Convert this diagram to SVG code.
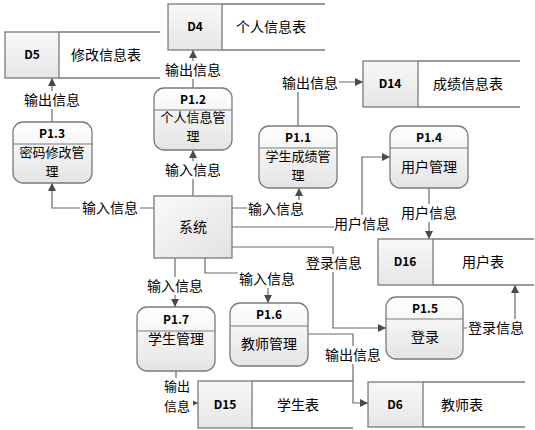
<svg xmlns="http://www.w3.org/2000/svg" width="535" height="430" viewBox="0 0 535 430">
<defs>
<linearGradient id="gp" x1="0" y1="0" x2="0" y2="1">
<stop offset="0" stop-color="#ffffff"/><stop offset="1" stop-color="#e4e4e4"/>
</linearGradient>
<linearGradient id="gs" x1="0" y1="0" x2="1" y2="1">
<stop offset="0" stop-color="#fafafa"/><stop offset="1" stop-color="#e2e2e2"/>
</linearGradient>
<linearGradient id="gd" x1="0" y1="0" x2="0" y2="1">
<stop offset="0" stop-color="#f8f8f8"/><stop offset="1" stop-color="#e6e6e6"/>
</linearGradient>
<marker id="ar" viewBox="0 0 10 10" refX="10" refY="5" markerWidth="8" markerHeight="8" markerUnits="userSpaceOnUse" orient="auto">
<path d="M0,0 L10,5 L0,10 z" fill="#4a4a4a"/>
</marker>
</defs>
<style>
text{font-family:"Noto Sans CJK SC","Microsoft YaHei",sans-serif;fill:#000;text-anchor:middle}
.t{font-size:14px}
.w{font-size:13px}
.h{font-size:12px;font-weight:bold}
.p{fill:url(#gp);stroke:#7a7a7a;stroke-width:1.3}
.hl{stroke:#7a7a7a;stroke-width:1}
.sb{fill:url(#gd);stroke:#7a7a7a;stroke-width:1.3}
.sl{stroke:#7a7a7a;stroke-width:1.3;fill:none}
.c{fill:none;stroke:#6a6a6a;stroke-width:1.2}
.ca{fill:none;stroke:#6a6a6a;stroke-width:1.2;marker-end:url(#ar)}
.lb{fill:#fff}
</style>
<rect width="535" height="430" fill="#fff"/>

<g id="connectors">
<path class="ca" d="M154,208 H52 V183"/>
<path class="ca" d="M193,196 V150"/>
<path class="ca" d="M193,88 V50"/>
<path class="ca" d="M52,122 V78"/>
<path class="ca" d="M232,208 H299 V188"/>
<path class="ca" d="M298,126 V82 H363"/>
<path class="ca" d="M232,227 H362 V157 H390"/>
<path class="ca" d="M429,188 V239"/>
<path class="ca" d="M232,247 H333 V328 H386"/>
<path class="ca" d="M463,328 H515 V285"/>
<path class="ca" d="M175,258 V307"/>
<path class="ca" d="M205,258 V273 H268 V303"/>
<path class="ca" d="M308,334 H353 V403 H368"/>
<path class="ca" d="M176,371 V403 H198"/>

<rect class="lb" x="80" y="199" width="60" height="18"/><text class="t" x="110" y="213">输入信息</text>
<rect class="lb" x="164" y="161" width="58" height="18"/><text class="t" x="193" y="175">输入信息</text>
<rect class="lb" x="164" y="61" width="58" height="18"/><text class="t" x="193" y="75">输出信息</text>
<rect class="lb" x="23" y="91" width="58" height="18"/><text class="t" x="52" y="105">输出信息</text>
<rect class="lb" x="247" y="200" width="58" height="18"/><text class="t" x="276" y="214">输入信息</text>
<rect class="lb" x="281" y="74" width="58" height="18"/><text class="t" x="310" y="88">输出信息</text>
<rect class="lb" x="334" y="215" width="56" height="18"/><text class="t" x="362" y="229">用户信息</text>
<rect class="lb" x="400" y="204" width="58" height="18"/><text class="t" x="429" y="218">用户信息</text>
<rect class="lb" x="305" y="254" width="58" height="18"/><text class="t" x="334" y="268">登录信息</text>
<rect class="lb" x="467" y="319" width="58" height="18"/><text class="t" x="496" y="333">登录信息</text>
<rect class="lb" x="146" y="277" width="58" height="18"/><text class="t" x="175" y="291">输入信息</text>
<rect class="lb" x="238" y="270" width="58" height="18"/><text class="t" x="267" y="284">输入信息</text>
<rect class="lb" x="324" y="346" width="58" height="18"/><text class="t" x="353" y="360">输出信息</text>
<rect class="lb" x="162" y="378" width="31" height="38"/><text class="w" x="177" y="391">输出</text><text class="w" x="177" y="411">信息</text>
</g>

<g id="sys">
<rect x="154" y="196" width="78" height="62" fill="url(#gs)" stroke="#7a7a7a" stroke-width="1.3"/>
<text class="t" x="193" y="232">系统</text>
</g>

<g id="P1.1">
<rect class="p" x="259" y="126" width="78" height="62" rx="10"/>
<line class="hl" x1="259" y1="148" x2="337" y2="148"/>
<text class="h" x="298" y="142">P1.1</text>
<text class="w" x="298" y="161">学生成绩管</text><text class="w" x="298" y="180">理</text>
</g>
<g id="P1.2">
<rect class="p" x="154" y="88" width="78" height="62" rx="10"/>
<line class="hl" x1="154" y1="110" x2="232" y2="110"/>
<text class="h" x="193" y="104">P1.2</text>
<text class="w" x="193" y="122">个人信息管</text><text class="w" x="193" y="141">理</text>
</g>
<g id="P1.3">
<rect class="p" x="13" y="122" width="79" height="61" rx="10"/>
<line class="hl" x1="13" y1="144" x2="92" y2="144"/>
<text class="h" x="52" y="138">P1.3</text>
<text class="w" x="52" y="157">密码修改管</text><text class="w" x="52" y="176">理</text>
</g>
<g id="P1.4">
<rect class="p" x="390" y="126" width="78" height="62" rx="10"/>
<line class="hl" x1="390" y1="148" x2="468" y2="148"/>
<text class="h" x="429" y="142">P1.4</text>
<text class="t" x="429" y="172">用户管理</text>
</g>
<g id="P1.5">
<rect class="p" x="386" y="297" width="77" height="62" rx="10"/>
<line class="hl" x1="386" y1="319" x2="463" y2="319"/>
<text class="h" x="425" y="313">P1.5</text>
<text class="t" x="425" y="342">登录</text>
</g>
<g id="P1.6">
<rect class="p" x="230" y="303" width="78" height="63" rx="10"/>
<line class="hl" x1="230" y1="326" x2="308" y2="326"/>
<text class="h" x="269" y="319">P1.6</text>
<text class="t" x="269" y="349">教师管理</text>
</g>
<g id="P1.7">
<rect class="p" x="137" y="307" width="78" height="64" rx="10"/>
<line class="hl" x1="137" y1="331" x2="215" y2="331"/>
<text class="h" x="176" y="324">P1.7</text>
<text class="t" x="176" y="344">学生管理</text>
</g>

<g id="D5">
<path class="sl" d="M59,32 H160 M59,78 H160"/>
<rect class="sb" x="5" y="32" width="54" height="46"/>
<text class="h" x="32" y="59">D5</text>
<text class="t" x="106" y="60">修改信息表</text>
</g>
<g id="D4">
<path class="sl" d="M222,4 H325 M222,50 H325"/>
<rect class="sb" x="168" y="4" width="54" height="46"/>
<text class="h" x="195" y="31">D4</text>
<text class="t" x="271" y="32">个人信息表</text>
</g>
<g id="D14">
<path class="sl" d="M418,61 H520 M418,107 H520"/>
<rect class="sb" x="363" y="61" width="55" height="46"/>
<text class="h" x="390" y="88">D14</text>
<text class="t" x="468" y="89">成绩信息表</text>
</g>
<g id="D16">
<path class="sl" d="M433,239 H534 M433,285 H534"/>
<rect class="sb" x="378" y="239" width="55" height="46"/>
<text class="h" x="405" y="266">D16</text>
<text class="t" x="483" y="267">用户表</text>
</g>
<g id="D15">
<path class="sl" d="M252,381 H353 M252,428 H353"/>
<rect class="sb" x="198" y="381" width="54" height="47"/>
<text class="h" x="225" y="409">D15</text>
<text class="t" x="298" y="410">学生表</text>
</g>
<g id="D6">
<path class="sl" d="M423,382 H525 M423,427 H525"/>
<rect class="sb" x="368" y="382" width="55" height="45"/>
<text class="h" x="395" y="409">D6</text>
<text class="t" x="462" y="410">教师表</text>
</g>
</svg>
